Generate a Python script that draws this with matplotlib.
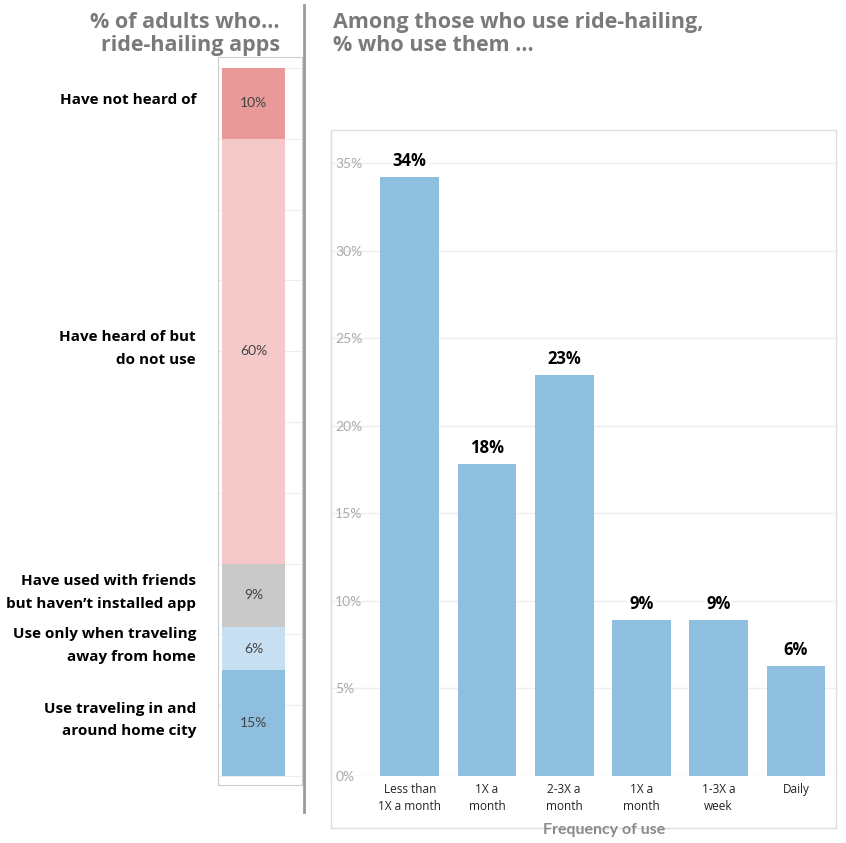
import matplotlib.pyplot as plt
import matplotlib.patches as mpatches

# left panel: awareness / use of ride-hailing apps (stacked, bottom to top)
aware_labels = ["Use traveling in and\naround home city",
                "Use only when traveling\naway from home",
                "Have used with friends\nbut haven\u2019t installed app",
                "Have heard of but\ndo not use",
                "Have not heard of"]
aware_values = [15, 6, 9, 60, 10]
aware_colors = ["#8fbfdf", "#c6e0f1", "#c9c9c9", "#f5c9ca", "#e99a98"]

# right panel: frequency of use
freq_labels = ["Less than\n1X a month", "1X a\nmonth", "2-3X a\nmonth",
               "1X a\nmonth", "1-3X a\nweek", "Daily"]
freq_values = [34.2, 17.8, 22.9, 8.9, 8.9, 6.3]

W, H = 846, 843
fig = plt.figure(figsize=(W / 100, H / 100), dpi=100)


def fbox(x0, y0, x1, y1):
    # pixel box (top-left origin) -> figure fraction rect
    return [x0 / W, 1 - y1 / H, (x1 - x0) / W, (y1 - y0) / H]


title_font = dict(family=["Open Sans", "DejaVu Sans"], fontweight="bold", color="#7a7a7a", fontsize=15.5)
label_font = dict(family=["Open Sans", "DejaVu Sans"], fontweight="bold", color="black")

# ---- left stacked bar
axl = fig.add_axes(fbox(218, 57, 302, 785))
axl.set_xlim(0, 1)
axl.set_ylim(-1.27, 101.55)
bottom = 0
for lab, val, col in zip(aware_labels, aware_values, aware_colors):
    axl.bar(0.425, val, width=0.75, bottom=bottom, color=col, zorder=2)
    axl.text(0.425, bottom + val / 2, f"{val}%", ha="center", va="center",
             fontsize=10, color="#444444", family=["Lato", "DejaVu Sans"], zorder=3)
    fig.text(196 / W, 1 - (776 - (bottom + val / 2) * 7.08 - 3) / H, lab, ha="right", va="center",
             fontsize=11, linespacing=1.8, **label_font)
    bottom += val
axl.set_yticks(range(0, 101, 10))
axl.grid(axis="y", color="#eeeeee", lw=0.8, zorder=0)
axl.tick_params(left=False, bottom=False, labelleft=False, labelbottom=False)
for s in axl.spines.values():
    s.set_color("#cccccc")

fig.text(280 / W, 1 - 34 / H, "% of adults who...\nride-hailing apps", ha="right", va="center",
         linespacing=1.15, **title_font)

# separator
fig.add_artist(plt.Line2D([304 / W, 304 / W], [1 - 5 / H, 1 - 812 / H], color="#9a9a9a", lw=2))

# ---- right panel
fig.add_artist(mpatches.Rectangle((331 / W, 1 - 828 / H), 505 / W, 698 / H, transform=fig.transFigure,
                                  fill=False, edgecolor="#dddddd", lw=1))
axr = fig.add_axes(fbox(331, 130, 836, 776))
x = range(len(freq_values))
axr.bar(x, freq_values, width=0.76, color="#8fbfdf", zorder=2)
for xi, v in zip(x, freq_values):
    axr.text(xi, v + 0.4, f"{round(v)}%", ha="center", va="bottom", fontsize=12, zorder=4,
             bbox=dict(facecolor="white", edgecolor="none", pad=1.5), **label_font)
axr.set_xlim(-1.02, 5.52)
axr.set_ylim(0, 36.9)
axr.set_yticks(range(0, 36, 5))
axr.set_yticklabels([f"{t}%" for t in range(0, 36, 5)], family=["Lato", "DejaVu Sans"], color="#aaaaaa", fontsize=10)
axr.tick_params(axis="y", length=0, pad=-3)
for t in axr.get_yticklabels():
    t.set_horizontalalignment("left")
axr.set_xticks(list(x))
axr.set_xticklabels(freq_labels, fontsize=8.5, family=["Open Sans", "DejaVu Sans"], color="#222222", linespacing=1.4)
axr.tick_params(axis="x", length=0, pad=5)
axr.grid(axis="y", color="#eeeeee", lw=1, zorder=0)
for s in axr.spines.values():
    s.set_visible(False)
axr.spines["left"].set_visible(True)
axr.spines["left"].set_color("#dddddd")

fig.text(604 / W, 1 - 830 / H, "Frequency of use", ha="center", va="center", fontsize=11.5,
         family=["Lato", "DejaVu Sans"], fontweight="bold", color="#8a8a8a")
fig.text(333 / W, 1 - 34 / H, "Among those who use ride-hailing,\n% who use them ...", ha="left", va="center",
         linespacing=1.15, **title_font)

fig.savefig("out.png", dpi=100)
